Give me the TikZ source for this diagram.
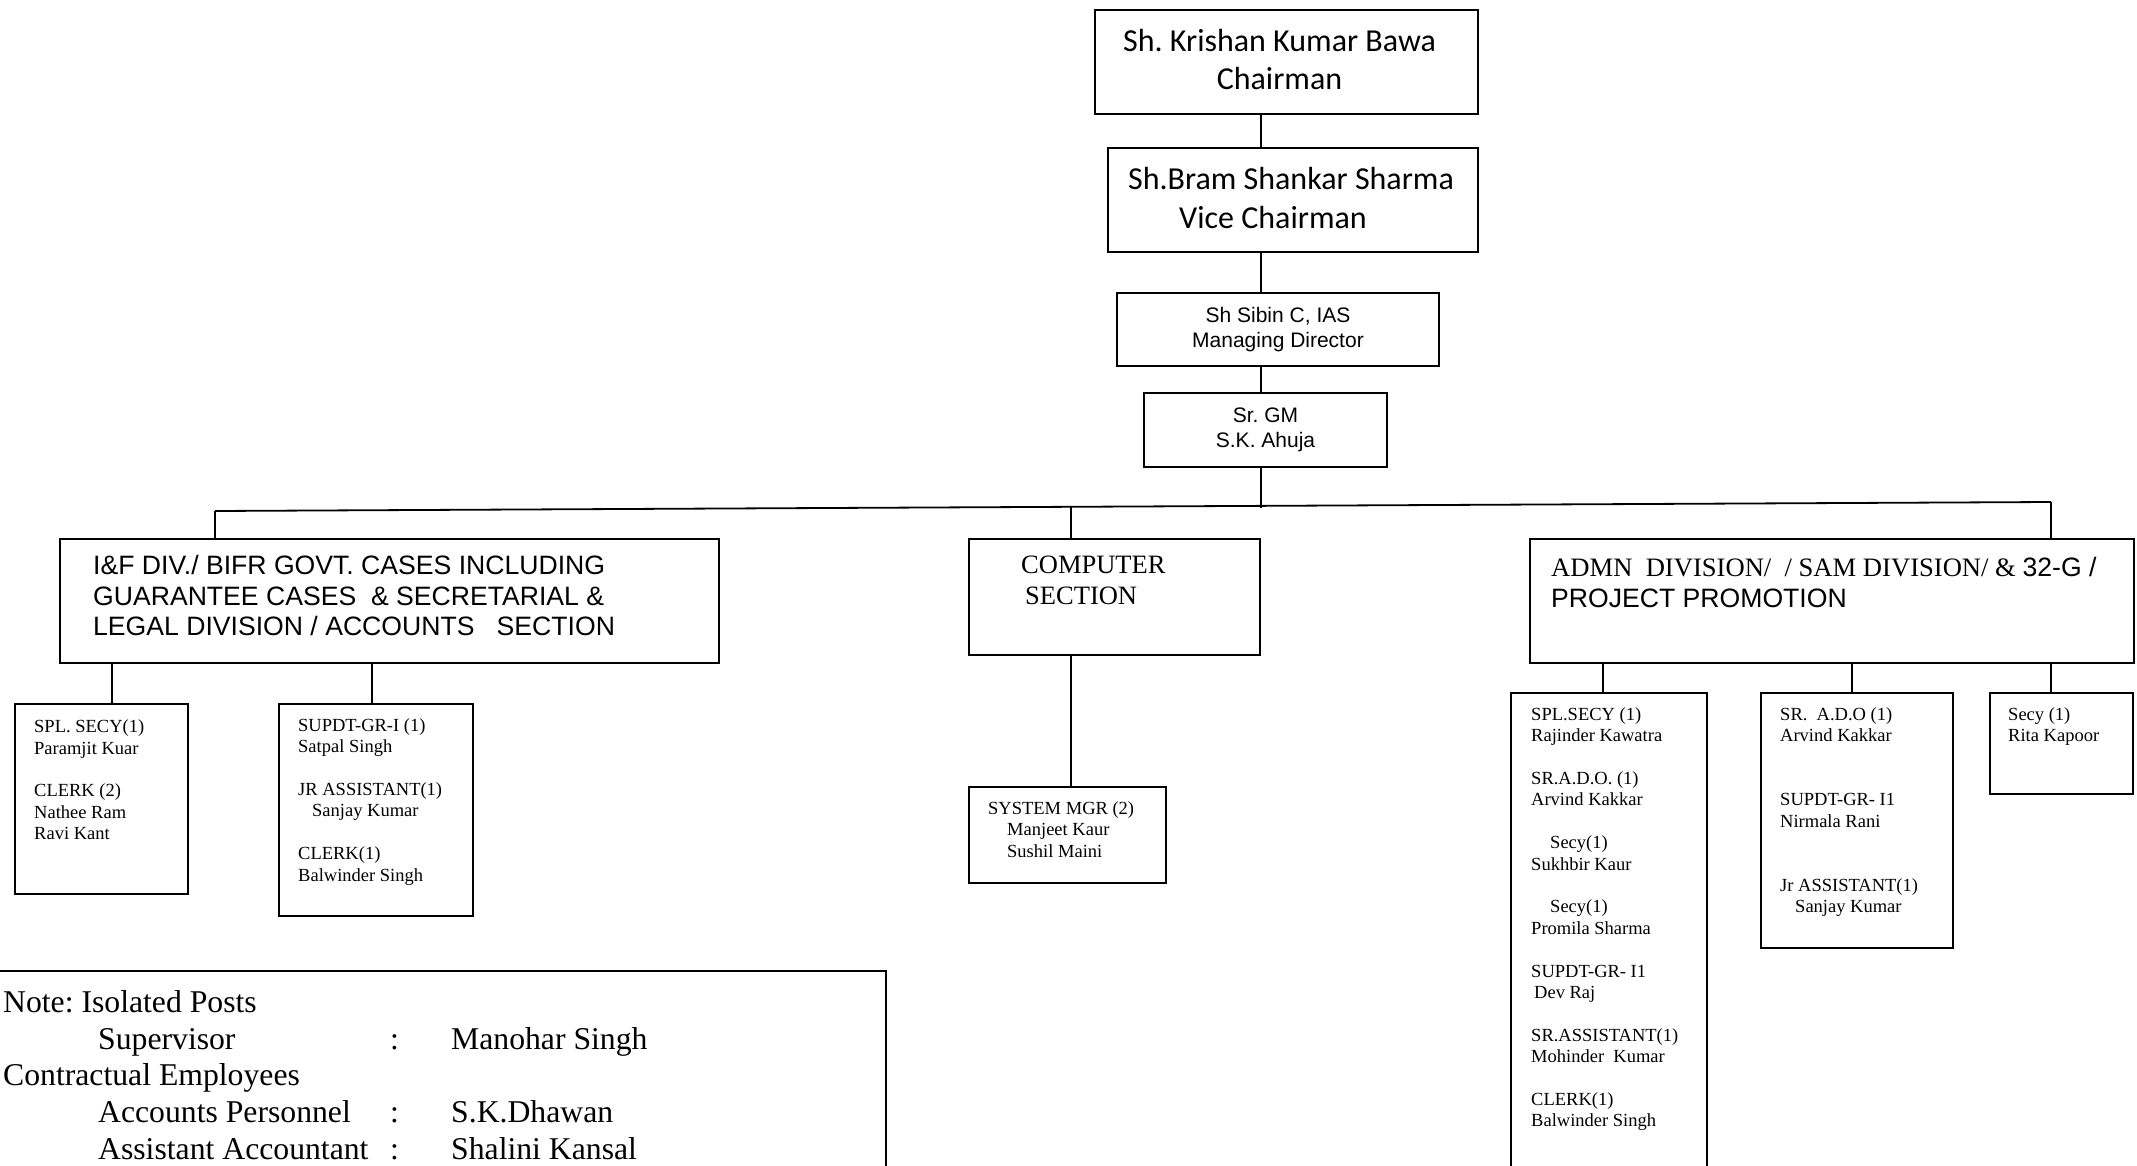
\documentclass[tikz,border=0pt]{standalone}
\usepackage{fontspec}
\setmainfont{Liberation Serif}
\newfontfamily\arialf{Liberation Sans}
\newfontfamily\calibf{Carlito}
\frenchspacing
\begin{document}
\begin{tikzpicture}[x=1pt,y=-1pt,
  box/.style={draw, line width=2pt, inner sep=0pt, anchor=north west},
  conn/.style={line width=1.8pt},
  txt/.style={anchor=north west, inner sep=0pt, align=left},
  small/.style={font=\fontsize{18.5}{21.4}\selectfont},
  bigsans/.style={font=\arialf\fontsize{26.6}{30.7}\selectfont},
]
\useasboundingbox (0,0) rectangle (2137,1166);
\clip (0,0) rectangle (2137,1166);

% top chain
\node[box, minimum width=383pt, minimum height=103.5pt, align=center,
      font=\calibf\fontsize{32}{38}\selectfont] (chair) at (1094,9.5)
      {Sh. Krishan Kumar Bawa\hspace*{14pt}\\Chairman\hspace*{14pt}\rule[-6pt]{0pt}{6pt}};
\node[box, minimum width=370pt, minimum height=104pt, align=center,
      font=\calibf\fontsize{32}{39}\selectfont] (vice) at (1107,147)
      {Sh.Bram Shankar Sharma\hspace*{4pt}\\Vice Chairman\hspace*{40pt}\rule[-5pt]{0pt}{5pt}};
\node[box, minimum width=322pt, minimum height=73pt, align=center,
      font=\arialf\fontsize{21}{24.5}\selectfont] (md) at (1116,292)
      {Sh Sibin C, IAS\\Managing Director};
\node[box, minimum width=243pt, minimum height=74pt, align=center,
      font=\arialf\fontsize{21}{24.5}\selectfont] (gm) at (1143,392)
      {Sr. GM\\S.K. Ahuja};

% division boxes
\node[box, minimum width=659pt, minimum height=124pt] (ifd) at (59,538) {};
\node[txt, bigsans] (ifdt) at (93,555)
  {I\&F DIV./ BIFR GOVT. CASES INCLUDING\\
   GUARANTEE CASES~ \& SECRETARIAL \&\\
   LEGAL DIVISION / ACCOUNTS~~~SECTION};
\node[box, minimum width=291pt, minimum height=116pt] (comp) at (968,538) {};
\node[txt, font=\fontsize{26.5}{31}\selectfont] (compt) at (1021,555.5)
  {COMPUTER\\\hspace*{4pt}SECTION};
\node[box, minimum width=604pt, minimum height=124pt] (admn) at (1529,538) {};
\node[txt, font=\fontsize{26.6}{31}\selectfont] (admnt) at (1551,557)
  {ADMN~~DIVISION/~~/ SAM DIVISION/ \& {\arialf 32-G /}\\{\arialf PROJECT PROMOTION}};

% sub boxes
\node[box, minimum width=173pt, minimum height=190pt] (spl) at (14,703) {};
\node[txt, small] (splt) at (34,719.7)
  {SPL. SECY(1)\\Paramjit Kuar\\[21.4pt]CLERK (2)\\Nathee Ram\\Ravi Kant};
\node[box, minimum width=194pt, minimum height=212pt] (supdt) at (278,703) {};
\node[txt, small] (supdtt) at (298,718.2)
  {SUPDT-GR-I (1)\\Satpal Singh\\[21.4pt]JR ASSISTANT(1)\\\hspace*{14pt}Sanjay Kumar\\[21.4pt]CLERK(1)\\Balwinder Singh};
\node[box, minimum width=197pt, minimum height=96pt] (sysm) at (968,786) {};
\node[txt, small] (sysmt) at (988,801.2)
  {SYSTEM MGR (2)\\\hspace*{19pt}Manjeet Kaur\\\hspace*{19pt}Sushil Maini};
\node[box, minimum width=196pt, minimum height=520pt] (adm1) at (1510,692) {};
\node[txt, small] (adm1t) at (1531,707.2)
  {SPL.SECY (1)\\Rajinder Kawatra\\[21.4pt]SR.A.D.O. (1)\\Arvind Kakkar\\[21.4pt]%
   \hspace*{19pt}Secy(1)\\Sukhbir Kaur\\[21.4pt]\hspace*{19pt}Secy(1)\\Promila Sharma\\[21.4pt]%
   SUPDT-GR- I1\\\hspace*{3pt}Dev Raj\\[21.4pt]SR.ASSISTANT(1)\\Mohinder~ Kumar\\[21.4pt]%
   CLERK(1)\\Balwinder Singh};
\node[box, minimum width=192pt, minimum height=255pt] (adm2) at (1760,692) {};
\node[txt, small] (adm2t) at (1780,707.2)
  {SR.~ A.D.O (1)\\Arvind Kakkar\\[42.8pt]SUPDT-GR- I1\\Nirmala Rani\\[42.8pt]%
   Jr ASSISTANT(1)\\\hspace*{15pt}Sanjay Kumar};
\node[box, minimum width=143pt, minimum height=101pt] (adm3) at (1989,692) {};
\node[txt, small] (adm3t) at (2008,707.2) {Secy (1)\\Rita Kapoor};

% note
\node[box, minimum width=890pt, minimum height=260pt] (note) at (-5,970) {};
\node[txt, font=\fontsize{31.7}{36.8}\selectfont] (notet) at (3,990)
  {Note: Isolated Posts\\
   \hspace*{95pt}\makebox[292pt][l]{Supervisor}\makebox[61pt][l]{:}Manohar Singh\\
   Contractual Employees\\
   \hspace*{95pt}\makebox[292pt][l]{Accounts Personnel}\makebox[61pt][l]{:}S.K.Dhawan\\
   \hspace*{95pt}\makebox[292pt][l]{Assistant Accountant}\makebox[61pt][l]{:}Shalini Kansal};

% connectors
\coordinate (tx) at (1261,0);
\coordinate (busL) at (215,511);
\coordinate (busR) at (2051,502);
\coordinate (busM) at (1071,506.8);
\coordinate (busT) at (1261,508);
\coordinate (d1) at (112,0);
\coordinate (d2) at (372,0);
\coordinate (d4) at (1603,0);
\coordinate (d5) at (1852,0);
\coordinate (d6) at (2051,0);

\draw[conn] (chair.south -| tx) -- (vice.north -| tx);
\draw[conn] (vice.south -| tx) -- (md.north -| tx);
\draw[conn] (md.south -| tx) -- (gm.north -| tx);
\draw[conn] (gm.south -| tx) -- (busT);
\draw[conn] (busL) -- (busR);
\draw[conn] (busL) -- (ifd.north -| busL);
\draw[conn] (busM) -- (comp.north -| busM);
\draw[conn] (busR) -- (admn.north -| busR);
\draw[conn] (ifd.south -| d1) -- (spl.north -| d1);
\draw[conn] (ifd.south -| d2) -- (supdt.north -| d2);
\draw[conn] (comp.south -| busM) -- (sysm.north -| busM);
\draw[conn] (admn.south -| d4) -- (adm1.north -| d4);
\draw[conn] (admn.south -| d5) -- (adm2.north -| d5);
\draw[conn] (admn.south -| d6) -- (adm3.north -| d6);
\end{tikzpicture}
\end{document}
